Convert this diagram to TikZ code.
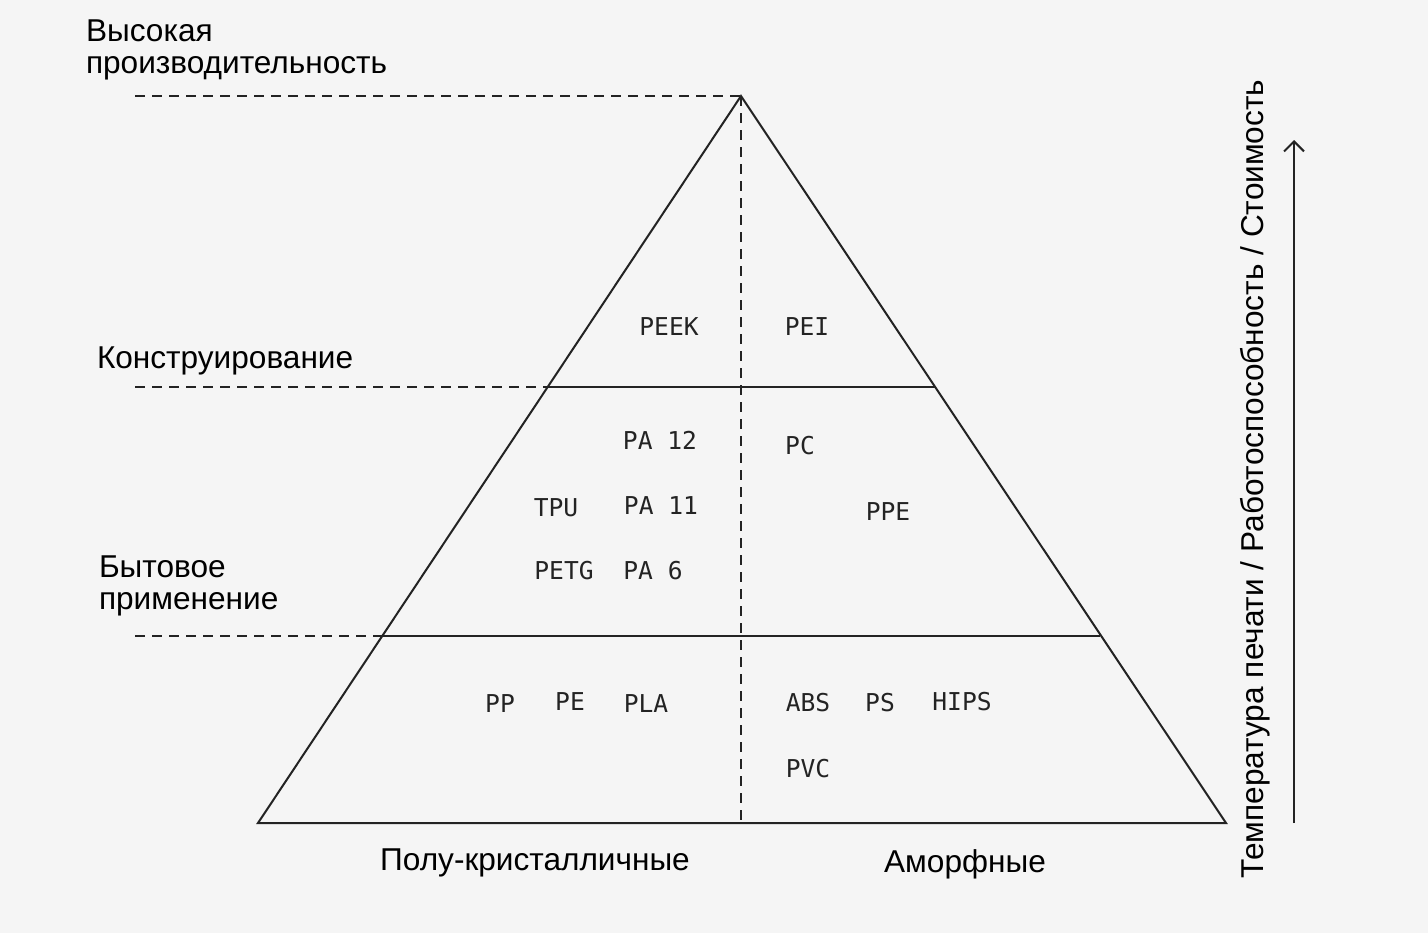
\documentclass[tikz,border=0pt]{standalone}
\usepackage{fontspec}
\setmainfont{Liberation Sans}
\newfontfamily\polyfont{DejaVu Sans Mono}
\usetikzlibrary{arrows.meta}
\definecolor{bgcol}{RGB}{245,245,245}
\definecolor{inkcol}{RGB}{35,35,35}
\begin{document}
\begin{tikzpicture}[x=0.5pt,y=-0.5pt,line width=1pt,draw=inkcol,
	lbl/.style={font=\fontsize{15.8}{16}\selectfont,inner sep=0pt,text=black},
	poly/.style={font=\polyfont\fontsize{12.3}{14}\selectfont,inner sep=0pt,anchor=base,text=inkcol},
	guide/.style={dash pattern=on 5pt off 3.5pt}]
		\fill[bgcol] (0,0) rectangle (1428,933);
		\useasboundingbox (0,0) rectangle (1428,933);
		% pyramid
		\coordinate (apex) at (741,96);
		\coordinate (bl) at (258,823);
		\coordinate (br) at (1226,823);
		\coordinate (bot) at (741,823);
		\coordinate (l1) at (548,387); \coordinate (r1) at (935,387);
		\coordinate (l2) at (382,636); \coordinate (r2) at (1100,636);
		\draw (apex)--(bl)--(br)--cycle;
		\draw (l1)--(r1) (l2)--(r2);
		\draw[guide] (apex)--(bot);
		% levels
		\coordinate (g0) at (135,96); \coordinate (g1) at (135,387); \coordinate (g2) at (135,636);
		\draw[guide] (g0)--(apex) (g1)--(l1) (g2)--(l2);
		\node[lbl,anchor=base west,align=left] (high) at (85,73) {Высокая\\производительность};
		\node[lbl,anchor=base west] (eng) at (96,368) {Конструирование};
		\node[lbl,anchor=base west,align=left] (home) at (98,609) {Бытовое\\применение};
		% columns
		\node[lbl,anchor=base] (semi) at (535,870) {Полу-кристалличные};
		\node[lbl,anchor=base] (amor) at (965,872) {Аморфные};
		% axis
		\coordinate (a0) at (1294,823); \coordinate (a1) at (1294,140);
		\draw[-{Straight Barb[length=5pt,width=10pt]}] (a0)--(a1);
		\node[lbl,rotate=90,anchor=base] (axis) at (1263,479) {Температура печати / Работоспособность / Стоимость};
		% materials
		\node[poly] (peek) at (669,335) {PEEK};
		\node[poly] (pei) at (807,335) {PEI};
		\node[poly] (pa12) at (660,449) {PA 12};
		\node[poly] (pc) at (800,454) {PC};
		\node[poly] (tpu) at (556,516) {TPU};
		\node[poly] (pa11) at (661,514) {PA 11};
		\node[poly] (ppe) at (888,520) {PPE};
		\node[poly] (petg) at (564,579) {PETG};
		\node[poly] (pa6) at (653,579) {PA 6};
		\node[poly] (pp) at (500,712) {PP};
		\node[poly] (pe) at (570,710) {PE};
		\node[poly] (pla) at (646,712) {PLA};
		\node[poly] (abs) at (808,711) {ABS};
		\node[poly] (ps) at (880,711) {PS};
		\node[poly] (hips) at (962,710) {HIPS};
		\node[poly] (pvc) at (808,777) {PVC};
\end{tikzpicture}
\end{document}
